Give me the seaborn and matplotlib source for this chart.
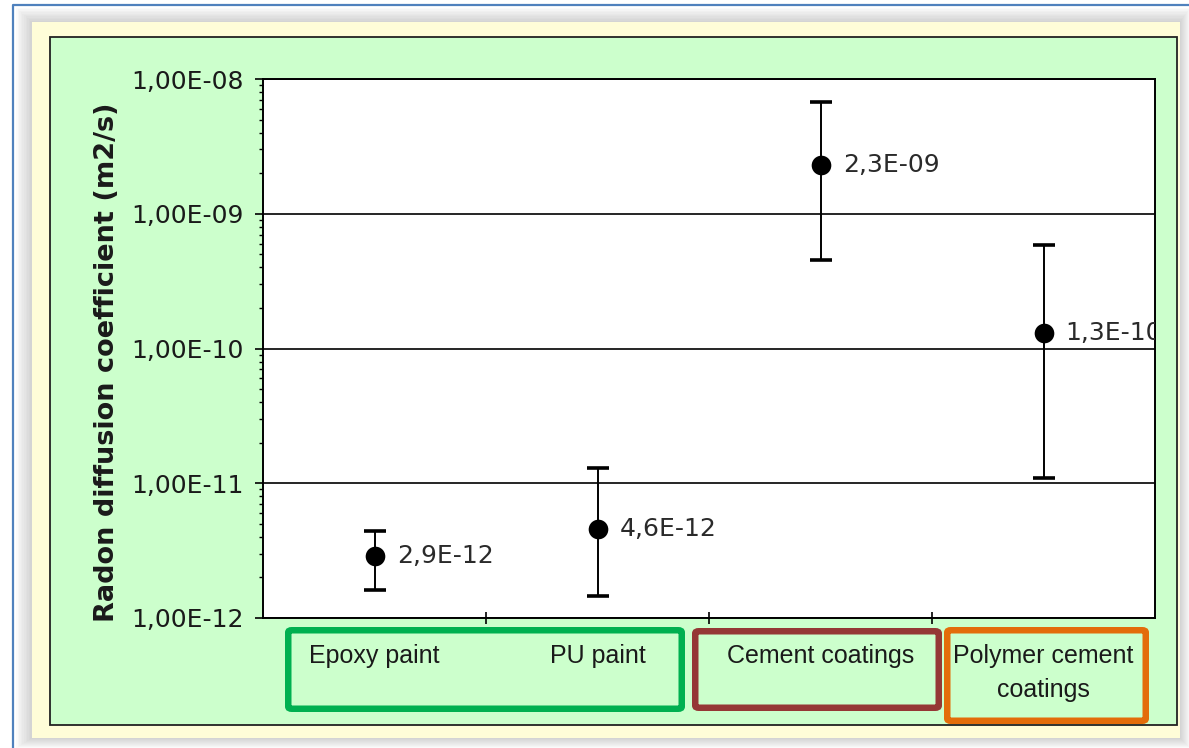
import numpy as np
import pandas as pd
import matplotlib
matplotlib.use("Agg")
import matplotlib.pyplot as plt
from matplotlib.patches import Rectangle, FancyBboxPatch
from matplotlib.ticker import FixedLocator, FixedFormatter, LogLocator, NullFormatter
import seaborn as sns

# ---- data ----
categories = ["Epoxy paint", "PU paint", "Cement coatings", "Polymer cement\ncoatings"]
diffusion = [2.9e-12, 4.6e-12, 2.3e-9, 1.3e-10]          # m2/s
lower = [1.6e-12, 1.45e-12, 4.5e-10, 1.1e-11]            # lower end of range
upper = [4.4e-12, 1.3e-11, 6.7e-9, 5.9e-10]              # upper end of range
value_labels = ["2,9E-12", "4,6E-12", "2,3E-09", "1,3E-10"]
y_ticks = [1e-12, 1e-11, 1e-10, 1e-9, 1e-8]
y_tick_labels = ["1,00E-12", "1,00E-11", "1,00E-10", "1,00E-09", "1,00E-08"]
y_label = "Radon diffusion coefficient (m2/s)"
group_colors = ["#00B050", "#953735", "#E36C0A"]

# ---- figure & frame ----
W, H = 1189, 748
fig = plt.figure(figsize=(W / 100, H / 100), dpi=100, facecolor="white")


def fx(x):
    return x / W


def fy(y):
    return 1 - y / H


def px_rect(x0, y0, x1, y1, **kw):
    return Rectangle((fx(x0), fy(y1)), (x1 - x0) / W, (y1 - y0) / H,
                     transform=fig.transFigure, **kw)


# soft drop shadow around the cream panel
for k in range(10, 0, -1):
    fig.patches.append(px_rect(32 - k * 1.6, 22 - k * 1.4, 1180 + k * 1.0, 738 + k * 1.0,
                               facecolor="#808080", edgecolor="none", alpha=0.035, zorder=0))
fig.patches.append(px_rect(32, 22, 1180, 738, facecolor="#FFFDD8", edgecolor="none", zorder=1))
fig.patches.append(px_rect(50, 37, 1177, 725, facecolor="#CCFFCC", edgecolor="#222222",
                           linewidth=1.3, zorder=2))
# thin blue page border
fig.lines.append(plt.Line2D([fx(12.5), fx(12.5), fx(1189)], [fy(748), fy(5), fy(5)],
                            transform=fig.transFigure, color="#4F81BD", linewidth=1.6, zorder=3))

# ---- axes ----
ax = fig.add_axes([fx(263), fy(618), (1155 - 263) / W, (618 - 79) / H], zorder=5)
ax.set_facecolor("white")

df = pd.DataFrame({"coating": categories, "D": diffusion})
sns.scatterplot(data=df, x="coating", y="D", ax=ax, s=200, color="black",
                edgecolor="black", linewidth=0, zorder=6, legend=False)
xpos = np.arange(len(categories))
yerr = [np.array(diffusion) - np.array(lower), np.array(upper) - np.array(diffusion)]
ax.errorbar(xpos, diffusion, yerr=yerr, fmt="none", ecolor="black", elinewidth=1.4,
            capsize=8, capthick=2.6, zorder=5)

ax.set_yscale("log")
ax.set_ylim(1e-12, 1e-8)
ax.set_xlim(-0.5, len(categories) - 0.5)

ax.yaxis.set_major_locator(FixedLocator(y_ticks))
ax.yaxis.set_major_formatter(FixedFormatter(y_tick_labels))
ax.yaxis.set_minor_locator(LogLocator(base=10, subs=np.arange(2, 10)))
ax.yaxis.set_minor_formatter(NullFormatter())
ax.grid(axis="y", which="major", color="black", linewidth=1.2)
ax.set_axisbelow(True)

ax.set_xticks(xpos)
ax.set_xticklabels(categories, fontsize=18, family=["Liberation Sans", "DejaVu Sans"],
                   linespacing=1.5, color="#1a1a1a")
ax.set_xticks(xpos[:-1] + 0.5, minor=True)
ax.tick_params(axis="x", which="major", length=0, pad=19)
ax.tick_params(axis="x", which="minor", length=9, width=1.2, direction="inout", color="black")
ax.tick_params(axis="y", which="major", length=6, width=1.2, direction="out", pad=8,
               labelsize=18, labelcolor="#1a1a1a")
ax.tick_params(axis="y", which="minor", length=3, width=1.0, direction="out")
for lab in ax.get_yticklabels():
    lab.set_family(["DejaVu Sans"])

for s in ax.spines.values():
    s.set_color("black")
    s.set_linewidth(1.4)

ax.set_xlabel("")
ax.set_ylabel(y_label, fontsize=19.5, fontweight="bold", family=["DejaVu Sans"], color="#1a1a1a")
ax.yaxis.set_label_coords(-0.160, 0.475)

# value labels next to each point
for i, (v, t) in enumerate(zip(diffusion, value_labels)):
    ax.annotate(t, xy=(i, v), xytext=(16, 0), textcoords="offset points",
                ha="left", va="center", fontsize=18, family=["DejaVu Sans"],
                color="#2a2a2a", zorder=7, clip_on=True)

# coloured frames around category groups
boxes = [(285, 627, 685, 712), (692, 628, 942, 711), (944, 627, 1149, 724)]
lw_px = 6.5
for (x0, y0, x1, y1), c in zip(boxes, group_colors):
    h = lw_px / 2
    fig.patches.append(FancyBboxPatch((fx(x0 + h), fy(y1 - h)), (x1 - x0 - lw_px) / W,
                                      (y1 - y0 - lw_px) / H,
                                      boxstyle="round,pad=0,rounding_size=0.003",
                                      transform=fig.transFigure, facecolor="none",
                                      edgecolor=c, linewidth=lw_px * 0.72, zorder=4))

fig.savefig("out.png", dpi=100, facecolor=fig.get_facecolor())
